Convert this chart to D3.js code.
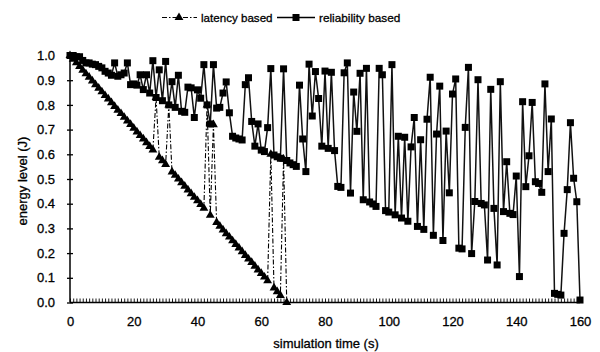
<!DOCTYPE html>
<html><head><meta charset="utf-8">
<script src="https://cdn.jsdelivr.net/npm/d3@7/dist/d3.min.js"></script>
<style>
body{margin:0;background:#fff}
svg{display:block}
text{font-family:"Liberation Sans",Arial,sans-serif;fill:#000;stroke:#000;stroke-width:0.3}
</style>
</head><body>
<svg id="chart" width="600" height="352"></svg>
<script>
// simulation time categories (s)
const times = d3.range(0, 161);
// energy level (J), latency based (node depleted at t = 68)
const latency = [
 1.0,0.985,0.971,0.956,0.941,0.926,0.912,0.897,0.882,0.868,
 0.853,0.838,0.824,0.809,0.794,0.779,0.765,0.75,0.735,0.721,
 0.706,0.691,0.676,0.662,0.647,0.632,0.618,0.83,0.588,0.574,
 0.559,0.80,0.529,0.515,0.5,0.485,0.471,0.456,0.441,0.426,
 0.412,0.397,0.382,0.80,0.353,0.72,0.324,0.309,0.294,0.279,
 0.265,0.25,0.235,0.221,0.206,0.191,0.176,0.162,0.147,0.132,
 0.118,0.103,0.088,0.60,0.059,0.044,0.029,0.58,0];
// energy level (J), reliability based
const reliability = [
 1.0,1.0,0.995,0.995,0.98,0.97,0.97,0.965,0.963,0.956,
 0.95,0.936,0.929,0.92,0.97,0.916,0.922,0.929,0.97,0.882,
 0.885,0.88,0.922,0.862,0.922,0.848,0.979,0.83,0.942,0.817,
 0.976,0.80,0.894,0.79,0.92,0.774,0.77,0.872,0.869,0.749,
 0.861,0.827,0.963,0.80,0.723,0.963,0.787,0.79,0.848,0.893,
 0.768,0.673,0.666,0.662,0.658,0.882,0.91,0.733,0.633,0.723,
 0.617,0.611,0.708,0.947,0.597,0.59,0.584,0.946,0.575,0.565,
 0.558,0.551,0.88,0.662,0.53,0.965,0.755,0.935,0.826,0.633,
 0.937,0.624,0.932,0.615,0.47,0.466,0.93,0.97,0.443,0.852,
 0.693,0.928,0.416,0.948,0.407,0.399,0.389,0.948,0.922,0.372,
 0.366,0.963,0.355,0.673,0.342,0.669,0.329,0.63,0.749,0.308,
 0.659,0.296,0.742,0.912,0.272,0.682,0.876,0.251,0.694,0.444,
 0.844,0.905,0.22,0.217,0.709,0.952,0.198,0.409,0.902,0.401,
 0.395,0.172,0.863,0.381,0.152,0.894,0.368,0.57,0.361,0.356,
 0.512,0.105,0.813,0.469,0.594,0.81,0.489,0.482,0.446,0.885,
 0.53,0.743,0.037,0.033,0.03,0.28,0.457,0.728,0.503,0.408,
 0.01];
const xTicks = [0,20,40,60,80,100,120,140,160];
const yTicks = [0,0.1,0.2,0.3,0.4,0.5,0.6,0.7,0.8,0.9,1.0];
const seriesNames = ["latency based","reliability based"];

const svg = d3.select("#chart");
const x = d3.scaleLinear().domain([0,160]).range([70,580]);
const y = d3.scaleLinear().domain([0,1]).range([302.5,55.5]);

// y axis
const yAxis = d3.axisLeft(y).tickValues(yTicks).tickFormat(d3.format(".1f")).tickSize(3).tickPadding(12);
const gy = svg.append("g").attr("transform","translate(70,0)").call(yAxis);
gy.select(".domain").attr("d","M0,"+y(1)+"V"+y(0)).attr("stroke","#000").attr("stroke-width",1.5);
gy.selectAll(".tick line").attr("x2",-3).attr("x1",3).attr("stroke","#000").attr("stroke-width",1.3);
gy.selectAll("text").attr("font-size",13).attr("font-family","Liberation Sans, Arial, sans-serif");

// x axis (category ticks at every time step)
const xAxis = d3.axisBottom(x).tickValues(times).tickSize(-4).tickFormat(d => xTicks.includes(d) ? d : "").tickPadding(14);
const gx = svg.append("g").attr("transform","translate(0,302.5)").call(xAxis);
gx.select(".domain").attr("d","M"+x(0)+",0H"+x(160)).attr("stroke","#000").attr("stroke-width",1.5);
gx.selectAll(".tick line").attr("stroke","#000").attr("stroke-width",0.9);
gx.selectAll("text").attr("font-size",13).attr("font-family","Liberation Sans, Arial, sans-serif");

// axis titles
svg.append("text").attr("transform","translate(27,181) rotate(-90)").attr("text-anchor","middle")
  .attr("font-size",13).text("energy level (J)");
svg.append("text").attr("x",326).attr("y",348).attr("text-anchor","middle")
  .attr("font-size",13).text("simulation time (s)");

const line = d3.line().x((d,i)=>x(times[i])).y(d=>y(d));
const tri = d3.symbol().type(d3.symbolTriangle).size(34);
const sq = d3.symbol().type(d3.symbolSquare).size(49);

// latency series
svg.append("path").datum(latency).attr("d",line).attr("fill","none")
  .attr("stroke","#000").attr("stroke-width",1.1).attr("stroke-dasharray","5,2,1.5,2");
svg.append("g").selectAll("path").data(latency).join("path")
  .attr("transform",(d,i)=>`translate(${x(times[i])},${y(d)})`).attr("d",tri).attr("fill","#000");

// reliability series
svg.append("path").datum(reliability).attr("d",line).attr("fill","none")
  .attr("stroke","#111").attr("stroke-width",1.5);
svg.append("g").selectAll("path").data(reliability).join("path")
  .attr("transform",(d,i)=>`translate(${x(times[i])},${y(d)})`).attr("d",sq).attr("fill","#000");

// legend
const lg = svg.append("g");
lg.append("line").attr("x1",162).attr("x2",197).attr("y1",17.5).attr("y2",17.5)
  .attr("stroke","#000").attr("stroke-width",1.1).attr("stroke-dasharray","5,2,1.5,2");
lg.append("path").attr("transform","translate(179,17.5)").attr("d",tri).attr("fill","#000");
lg.append("text").attr("x",201).attr("y",22).attr("font-size",11.6).text(seriesNames[0]);
lg.append("line").attr("x1",277).attr("x2",315).attr("y1",17.5).attr("y2",17.5)
  .attr("stroke","#000").attr("stroke-width",1.5);
lg.append("path").attr("transform","translate(296,17.5)").attr("d",sq).attr("fill","#000");
lg.append("text").attr("x",319).attr("y",22).attr("font-size",11.8).text(seriesNames[1]);
</script>
</body></html>
